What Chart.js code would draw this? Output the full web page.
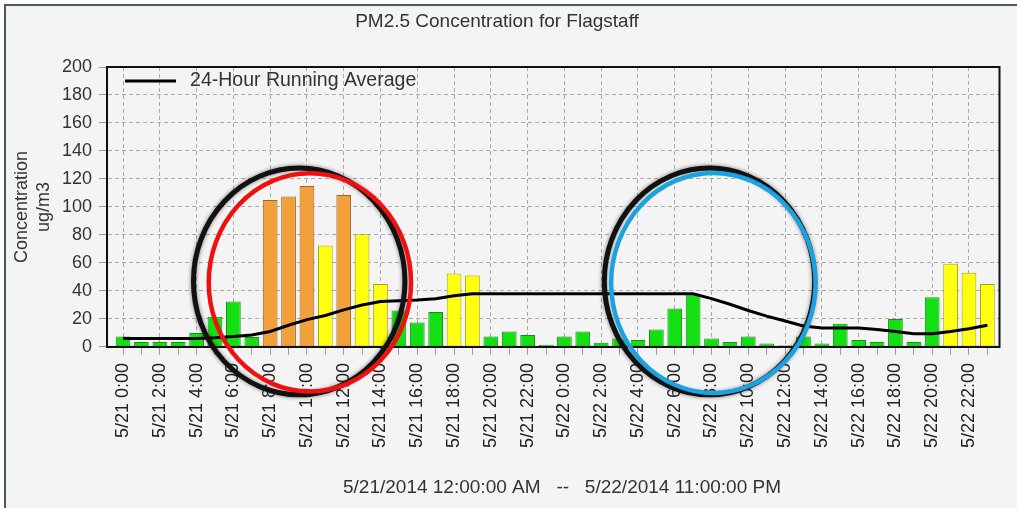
<!DOCTYPE html>
<html>
<head>
<meta charset="utf-8">
<title>PM2.5 Concentration for Flagstaff</title>
<script src="https://cdn.jsdelivr.net/npm/chart.js@4.4.1/dist/chart.umd.min.js"></script>
<style>
  html, body { margin: 0; padding: 0; background: #fff; }
  #wrap { position: relative; width: 1017px; height: 508px; }
</style>
</head>
<body>
<div id="wrap"><canvas id="pmChart"></canvas></div>
<script>
// hourly categories, 5/21 0:00 .. 5/22 23:00
const hours = [
  '5/21 0:00', '5/21 1:00', '5/21 2:00', '5/21 3:00', '5/21 4:00', '5/21 5:00',
  '5/21 6:00', '5/21 7:00', '5/21 8:00', '5/21 9:00', '5/21 10:00', '5/21 11:00',
  '5/21 12:00', '5/21 13:00', '5/21 14:00', '5/21 15:00', '5/21 16:00', '5/21 17:00',
  '5/21 18:00', '5/21 19:00', '5/21 20:00', '5/21 21:00', '5/21 22:00', '5/21 23:00',
  '5/22 0:00', '5/22 1:00', '5/22 2:00', '5/22 3:00', '5/22 4:00', '5/22 5:00',
  '5/22 6:00', '5/22 7:00', '5/22 8:00', '5/22 9:00', '5/22 10:00', '5/22 11:00',
  '5/22 12:00', '5/22 13:00', '5/22 14:00', '5/22 15:00', '5/22 16:00', '5/22 17:00',
  '5/22 18:00', '5/22 19:00', '5/22 20:00', '5/22 21:00', '5/22 22:00', '5/22 23:00'
];

// hourly PM2.5 (ug/m3)
const pm25 = [
  7.5, 3.5, 3.5, 3.5, 10, 21.5, 32.5, 7, 105, 107.5, 115, 72.5,
  108.5, 80.5, 45, 26, 17.5, 25, 52.5, 51, 7.5, 11, 8.5, 1.5,
  7.5, 11, 3, 6, 5, 12.5, 27.5, 37.5, 6, 3.5, 7.5, 2.5,
  1, 7.5, 2.5, 16.5, 5, 3.5, 20, 3.5, 35.5, 59.5, 53, 45
];

// 24-hour running average
const runningAvg = [
  6, 6, 6, 6, 6, 6.5, 7.5, 8.5, 11, 15.5, 19.5, 22.5,
  26.5, 30, 32.5, 33, 33.5, 34.5, 36.5, 38, 38, 38, 38, 38,
  38, 38, 38, 38, 38, 38, 38, 38, 34.5, 30.5, 26, 22,
  18.5, 15, 13.5, 13.5, 13.5, 12.5, 11, 9.5, 9.5, 11, 13, 15.5
];

const yMin = 0;
const yMax = 200;
const yStep = 20;
// hour axis runs a little past the first and last bar, as in the original
const xMin = -0.87;
const xMax = 47.66;

const chartTitle = 'PM2.5 Concentration for Flagstaff';
const rangeTitle = '5/21/2014 12:00:00 AM   --   5/22/2014 11:00:00 PM';

// hand-drawn highlight rings, in data units (hour index, concentration)
const rings = [
  { cx: 9.58, cy: 46.8, rx: 5.75, ry: 81, color: '#111', width: 5, blur: 4 },
  { cx: 10.16, cy: 46.1, rx: 5.5, ry: 78, color: '#f01010', width: 4.5, blur: 0 },
  { cx: 31.89, cy: 46.8, rx: 5.72, ry: 81, color: '#111', width: 5, blur: 4 },
  { cx: 32.1, cy: 45.7, rx: 5.56, ry: 78.6, color: '#1aa3e0', width: 4.5, blur: 0 }
];

const FONT = "'Liberation Sans', Arial, sans-serif";
Chart.defaults.font.family = FONT;
Chart.defaults.color = '#333';

function levelFill(v) {
  if (v > 90) return '#f2a13a';
  if (v > 40) return '#ffff10';
  return '#12e012';
}
function levelBorder(v) {
  if (v > 90) return '#9a6424';
  if (v > 40) return '#a8a400';
  return '#1a8a1a';
}

const barPoints = pm25.map((v, i) => ({ x: i, y: v }));
const avgPoints = runningAvg.map((v, i) => ({ x: i, y: v }));

const panelBackground = {
  id: 'panelBackground',
  beforeDraw(chart) {
    const { ctx, width, height } = chart;
    ctx.save();
    ctx.fillStyle = '#fff';
    ctx.fillRect(0, 0, width, height);
    ctx.fillStyle = '#f4f4f4';
    ctx.fillRect(5, 5, width - 5, height - 5);
    ctx.strokeStyle = '#4a5a55';
    ctx.lineWidth = 2;
    ctx.beginPath();
    ctx.moveTo(5, height);
    ctx.lineTo(5, 5);
    ctx.lineTo(width, 5);
    ctx.stroke();
    ctx.restore();
  }
};

const frameAndLegend = {
  id: 'frameAndLegend',
  afterDatasetsDraw(chart) {
    const { ctx, chartArea: a } = chart;
    ctx.save();
    ctx.strokeStyle = '#111';
    ctx.lineWidth = 2;
    ctx.strokeRect(a.left, a.top, a.right - a.left, a.bottom - a.top);
    // legend inside the plot
    const ly = a.top + 14;
    ctx.strokeStyle = '#000';
    ctx.lineWidth = 3;
    ctx.beginPath();
    ctx.moveTo(a.left + 18, ly);
    ctx.lineTo(a.left + 69, ly);
    ctx.stroke();
    ctx.fillStyle = '#333';
    ctx.font = '19.5px ' + FONT;
    ctx.textBaseline = 'middle';
    ctx.fillText(chart.data.datasets[0].label, a.left + 83, ly);
    // titles, placed where the original has them
    ctx.textAlign = 'center';
    ctx.font = '19px ' + FONT;
    ctx.fillText(chartTitle, 497, 22);
    ctx.fillText(rangeTitle, 562, 488);
    ctx.restore();
  }
};

const highlightRings = {
  id: 'highlightRings',
  afterDraw(chart) {
    const { ctx, scales: { x, y } } = chart;
    rings.forEach(r => {
      const px = x.getPixelForValue(r.cx);
      const py = y.getPixelForValue(r.cy);
      const prx = x.getPixelForValue(r.cx + r.rx) - px;
      const pry = y.getPixelForValue(r.cy - r.ry) - py;
      ctx.save();
      ctx.strokeStyle = r.color;
      ctx.lineWidth = r.width;
      if (r.blur) {
        ctx.shadowColor = 'rgba(0,0,0,0.5)';
        ctx.shadowBlur = r.blur;
      }
      ctx.beginPath();
      ctx.ellipse(px, py, prx, pry, 0, 0, Math.PI * 2);
      ctx.stroke();
      ctx.restore();
    });
  }
};

new Chart(document.getElementById('pmChart'), {
  type: 'bar',
  data: {
    datasets: [
      {
        type: 'line',
        label: '24-Hour Running Average',
        data: avgPoints,
        borderColor: '#000',
        borderWidth: 3,
        pointRadius: 0,
        tension: 0,
        order: 0
      },
      {
        label: 'PM2.5',
        data: barPoints,
        backgroundColor: ctx => levelFill(ctx.raw.y),
        borderColor: ctx => levelBorder(ctx.raw.y),
        borderWidth: 1,
        barPercentage: 0.8,
        categoryPercentage: 1,
        order: 1
      }
    ]
  },
  options: {
    responsive: true,
    maintainAspectRatio: false,
    animation: false,
    layout: { padding: { left: 0, right: 2, top: 67, bottom: 52 } },
    plugins: {
      legend: { display: false },
      tooltip: { enabled: false },
      title: { display: false }
    },
    scales: {
      x: {
        type: 'linear',
        min: xMin,
        max: xMax,
        offset: false,
        afterBuildTicks: axis => { axis.ticks = hours.map((h, i) => ({ value: i })); },
        grid: {
          offset: false,
          color: ctx => (ctx.tick && ctx.tick.value % 2 === 0 ? '#a9a9a9' : 'transparent'),
          tickColor: '#9a9a9a',
          tickLength: 8
        },
        border: { color: '#111', width: 2, dash: [4, 3] },
        ticks: {
          autoSkip: false,
          minRotation: 90,
          maxRotation: 90,
          padding: 8,
          color: '#222',
          font: { size: 18 },
          callback: v => (v % 2 === 0 ? hours[v] : '')
        }
      },
      y: {
        min: yMin,
        max: yMax,
        grid: { color: '#a9a9a9', tickColor: '#9a9a9a', tickLength: 8 },
        border: { color: '#111', width: 2, dash: [4, 3] },
        ticks: { stepSize: yStep, padding: 7, color: '#333', font: { size: 18 } },
        title: {
          display: true,
          text: ['Concentration', 'ug/m3'],
          color: '#333',
          font: { size: 18 },
          padding: { top: 11.2, bottom: 0.6 }
        }
      }
    }
  },
  plugins: [panelBackground, frameAndLegend, highlightRings]
});
</script>
</body>
</html>
